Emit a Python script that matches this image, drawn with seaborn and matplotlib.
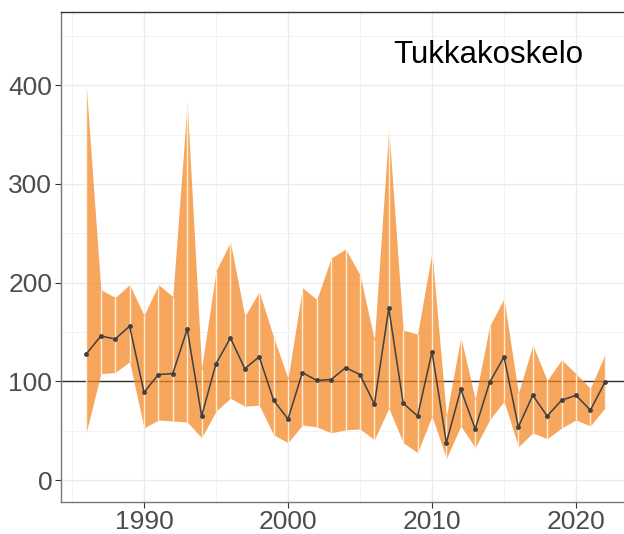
import numpy as np
import pandas as pd
import matplotlib
matplotlib.use("Agg")
import matplotlib.pyplot as plt
import seaborn as sns

years = list(range(1986, 2023))
index_values = [128, 146, 143, 156, 89, 107, 108, 153, 65, 118, 144, 113, 125,
                81, 62, 109, 101, 102, 114, 107, 77, 174, 78, 65, 130,
                38, 92, 52, 99, 125, 54, 86, 65, 81, 86, 71, 99]
upper_values = [397, 193, 185, 198, 167, 198, 186, 382, 113, 212, 241, 166, 191,
                145, 103, 195, 183, 225, 234, 208, 142, 357, 152, 148, 231,
                65, 145, 82, 156, 184, 88, 137, 101, 122, 108, 93, 127]
lower_values = [49, 108, 109, 120, 53, 61, 60, 59, 43, 70, 83, 75, 76,
                46, 38, 56, 54, 48, 51, 52, 41, 73, 38, 28, 65,
                22, 55, 33, 61, 80, 34, 48, 42, 53, 61, 55, 73]
species = "Tukkakoskelo"
yticks = [0, 100, 200, 300, 400]
xticks = [1990, 2000, 2010, 2020]

df = pd.DataFrame({"year": years, "index": index_values,
                   "upper": upper_values, "lower": lower_values})

sns.set_theme(style="whitegrid")
plt.rcParams['font.family'] = ['Liberation Sans', 'DejaVu Sans']

fig = plt.figure(figsize=(6.24, 5.34), dpi=100)
ax = fig.add_axes([60.5 / 624, 32 / 534, 570.2 / 624, 490 / 534])

ax.axhline(100, color="#333333", lw=1.0, zorder=2)
ax.fill_between(df["year"], df["lower"], df["upper"], color="#F5841F",
                alpha=0.72, lw=0, zorder=3)
ax.vlines(df["year"], df["lower"], df["upper"], color="#FDF3DF", lw=1.0,
          alpha=0.95, zorder=3.5)
sns.lineplot(data=df, x="year", y="index", ax=ax, color="#404040", lw=1.1,
             marker="o", markersize=3.5, markeredgewidth=0, zorder=4)

ax.set_xlim(1984.2, 2023.8)
ax.set_ylim(-22, 474)
ax.set_xticks(xticks)
ax.set_yticks(yticks)
ax.set_xticks([1985, 1995, 2005, 2015], minor=True)
ax.set_yticks([50, 150, 250, 350, 450], minor=True)
ax.grid(which="major", color="#EBEBEB", lw=1.0)
ax.grid(which="minor", color="#F3F3F3", lw=0.7)
ax.set_xlabel("")
ax.set_ylabel("")
ax.tick_params(axis="both", which="major", labelsize=19, labelcolor="#4D4D4D",
               color="#333333", length=4, width=0.8, direction="out",
               left=True, bottom=True, pad=2)
ax.tick_params(which="minor", length=0)
ax.spines["right"].set_visible(False)
ax.spines["top"].set_color("#333333")
ax.spines["top"].set_linewidth(1.0)
for side in ["left", "bottom"]:
    ax.spines[side].set_color("#777777")
    ax.spines[side].set_linewidth(1.0)

ax.text(2013.9, 430, species, fontsize=22.5, color="black", ha="center",
        va="center")

fig.savefig("out.png", dpi=100)
